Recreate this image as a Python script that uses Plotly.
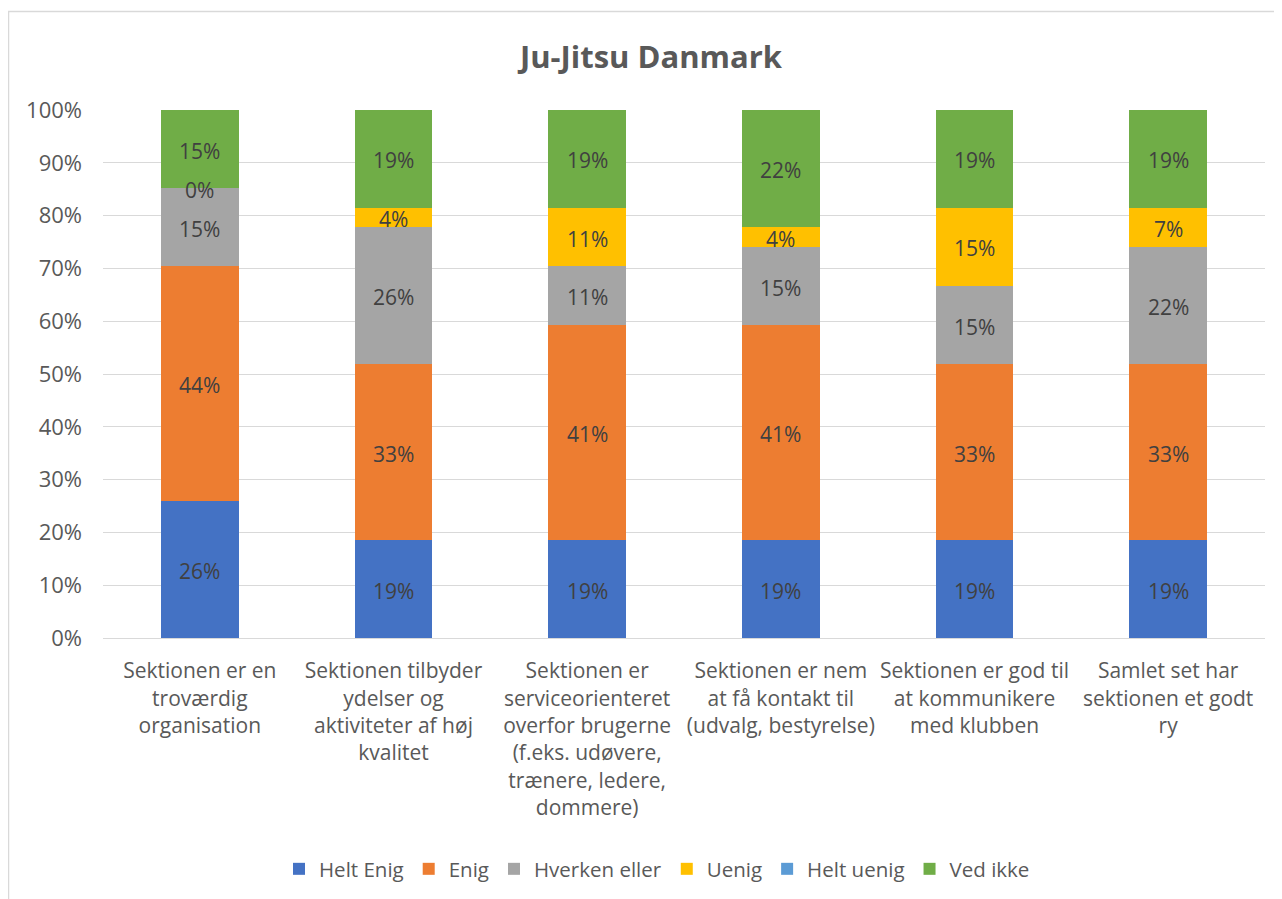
import plotly.graph_objects as go

categories = [
    "Sektionen er en<br>troværdig<br>organisation",
    "Sektionen tilbyder<br>ydelser og<br>aktiviteter af høj<br>kvalitet",
    "Sektionen er<br>serviceorienteret<br>overfor brugerne<br>(f.eks. udøvere,<br>trænere, ledere,<br>dommere)",
    "Sektionen er nem<br>at få kontakt til<br>(udvalg, bestyrelse)",
    "Sektionen er god til<br>at kommunikere<br>med klubben",
    "Samlet set har<br>sektionen et godt<br>ry",
]

helt_enig = [0.2593, 0.1852, 0.1852, 0.1852, 0.1852, 0.1852]
enig = [0.4444, 0.3333, 0.4074, 0.4074, 0.3333, 0.3333]
hverken_eller = [0.1481, 0.2593, 0.1111, 0.1481, 0.1481, 0.2222]
uenig = [0.0000, 0.0370, 0.1111, 0.0370, 0.1481, 0.0741]
helt_uenig = [0.0000, 0.0000, 0.0000, 0.0000, 0.0000, 0.0000]
ved_ikke = [0.1481, 0.1852, 0.1852, 0.2222, 0.1852, 0.1852]

series = [
    ("Helt Enig", helt_enig, "#4472C4", True),
    ("Enig", enig, "#ED7D31", True),
    ("Hverken eller", hverken_eller, "#A5A5A5", True),
    ("Uenig", uenig, "#FFC000", True),
    ("Helt uenig", helt_uenig, "#5B9BD5", False),
    ("Ved ikke", ved_ikke, "#70AD47", True),
]

FONT = "Open Sans"
W, H = 1282, 899
OFF = 8  # page body offset

fig = go.Figure()
base = [0.0] * len(categories)
for name, vals, color, show_labels in series:
    fig.add_trace(go.Bar(
        name=name, x=categories, y=vals, marker=dict(color=color, line=dict(width=0)),
        hoverinfo="skip",
    ))
    if show_labels:
        for cat, b, v in zip(categories, base, vals):
            fig.add_annotation(
                x=cat, y=b + v / 2, xref="x", yref="y", text=f"{round(v * 100):d}%",
                showarrow=False, yshift=-1.5,
                font=dict(family=FONT, size=21, color="#404040"),
            )
    base = [b + v for b, v in zip(base, vals)]

left, right, top, bottom = 103 - OFF, 1265 - OFF, 110 - OFF, 638 - OFF
pw, ph = right - left, bottom - top

fig.update_layout(
    barmode="stack",
    bargap=0.6,
    width=W, height=H,
    margin=dict(l=left, r=W - right, t=top, b=H - bottom),
    paper_bgcolor="white", plot_bgcolor="white",
    font=dict(family=FONT, color="#595959", size=21),
    title=dict(text="<b>Ju-Jitsu Danmark</b>", x=(651 - OFF) / W, xanchor="center",
               y=1 - (57 - OFF) / H, yanchor="middle",
               font=dict(family=FONT, size=31, color="#595959")),
    legend=dict(orientation="h", x=(657 - OFF - left) / pw, xanchor="center",
                y=(bottom - (869 - OFF)) / ph, yanchor="middle",
                font=dict(family=FONT, size=20.5, color="#595959"), traceorder="normal",
                itemwidth=30, tracegroupgap=0),
    showlegend=True,
)
fig.update_yaxes(range=[0, 1], tickformat=".0%", dtick=0.1, showgrid=True,
                 gridcolor="#d9d9d9", gridwidth=1.3, zeroline=False, showline=False,
                 ticks="", ticklabelstandoff=20,
                 tickfont=dict(family=FONT, size=22, color="#595959"), fixedrange=True)
fig.update_xaxes(showgrid=False, showline=True, linecolor="#d9d9d9", linewidth=1.3,
                 ticks="", ticklabelstandoff=14,
                 tickfont=dict(family=FONT, size=21, color="#595959"), fixedrange=True)

# outer chart border
fig.add_shape(type="rect", xref="paper", yref="paper",
              x0=(8.5 - OFF - left) / pw, x1=(W + 20 - left) / pw,
              y0=(bottom - (H + 20)) / ph, y1=(bottom - (11.5 - OFF)) / ph,
              line=dict(color="#d9d9d9", width=1.5), fillcolor="rgba(0,0,0,0)", layer="below")

fig.write_html("out.html")
